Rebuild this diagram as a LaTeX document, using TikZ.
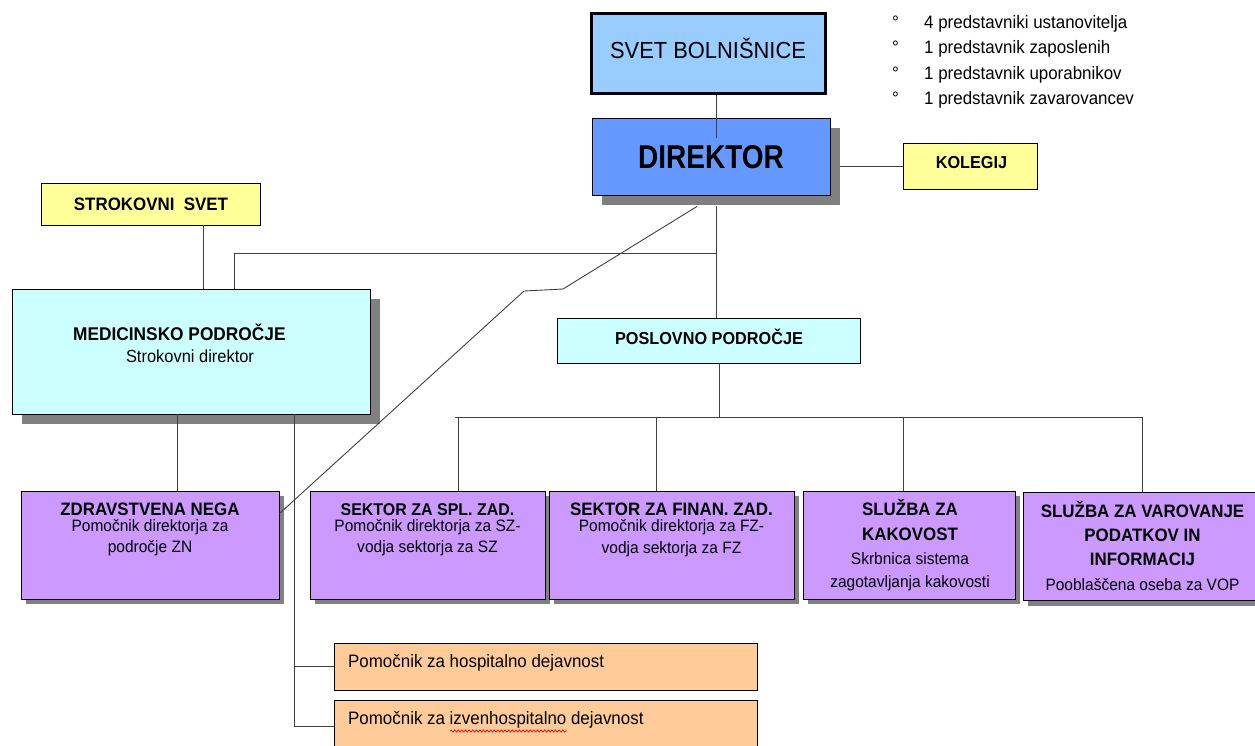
\documentclass[tikz,border=0pt]{standalone}
\usepackage{fontspec}
\setmainfont{Liberation Sans}[FakeStretch=0.94]
\newfontfamily\dirfont{Liberation Sans}[FakeStretch=0.85]
\usetikzlibrary{shadows,decorations.pathmorphing}
\definecolor{svetblue}{HTML}{99CCFF}
\definecolor{dirblue}{HTML}{6699FF}
\definecolor{yel}{HTML}{FFFF99}
\definecolor{cyanbox}{HTML}{CCFFFF}
\definecolor{purp}{HTML}{CC99FF}
\definecolor{orng}{HTML}{FFCC99}
\definecolor{shgray}{HTML}{808080}
\newcommand{\fsz}[1]{\fontsize{#1}{#1}\selectfont}
\begin{document}
\begin{tikzpicture}[x=1pt,y=-1pt,
  conn/.style={draw=black!75, line width=0.9pt},
  box/.style={draw=black, line width=0.9pt, inner sep=0pt},
  bigshadow/.style={drop shadow={shadow xshift=10pt,shadow yshift=-10pt,fill=shgray,opacity=1}},
  smallshadow/.style={drop shadow={shadow xshift=5pt,shadow yshift=-5pt,fill=shgray,opacity=1}},
  lbl/.style={inner sep=0pt, anchor=base},
  lbll/.style={inner sep=0pt, anchor=base west},
  ttl/.style={lbl, font=\bfseries\fsz{18}},
  sub/.style={lbl, font=\fsz{16.5}},
]
\useasboundingbox (0,0) rectangle (1255,745);

% ---------- boxes ----------
\node[box, fill=svetblue, line width=3pt, minimum width=234pt, minimum height=80pt] (svet) at (708,53) {};
\node[box, fill=dirblue, bigshadow, minimum width=238pt, minimum height=77pt] (dir) at (711,156.5) {};
\node[box, fill=yel, minimum width=134pt, minimum height=46pt] (kol) at (970,166) {};
\node[box, fill=yel, minimum width=219pt, minimum height=42pt] (strok) at (150.5,204) {};
\node[box, fill=cyanbox, bigshadow, minimum width=358pt, minimum height=125pt] (med) at (191,351.5) {};
\node[box, fill=cyanbox, minimum width=302.5pt, minimum height=45pt] (pos) at (708.75,340.5) {};
\node[box, fill=purp, smallshadow, minimum width=258pt, minimum height=108pt] (zdrav) at (150,545) {};
\node[box, fill=purp, smallshadow, minimum width=235pt, minimum height=108pt] (spl) at (427.5,545) {};
\node[box, fill=purp, smallshadow, minimum width=245pt, minimum height=108pt] (fin) at (671.5,545) {};
\node[box, fill=purp, smallshadow, minimum width=212pt, minimum height=108pt] (kak) at (909,545) {};
\node[box, fill=purp, smallshadow, minimum width=239pt, minimum height=108pt] (var) at (1142.5,546.7) {};
\node[box, fill=orng, minimum width=423pt, minimum height=46.7pt] (hosp) at (545.5,666.7) {};
\node[box, fill=orng, minimum width=423pt, minimum height=52pt] (izv) at (545.5,726) {};

% ---------- junction coordinates ----------
\coordinate (dtop) at (716,138);
\coordinate (j1) at (716,253);
\coordinate (j2) at (234,253);
\coordinate (s1) at (203,260);
\coordinate (d1) at (563,289);
\coordinate (d2) at (524,291);
\coordinate (m1) at (177.5,450);
\coordinate (m2) at (294,450);
\coordinate (p1) at (719,417);
\coordinate (h1) at (455,417);
\coordinate (h2) at (1142,417);
\coordinate (v1) at (458,417);
\coordinate (v2) at (656,417);
\coordinate (v3) at (903,417);
\coordinate (v4) at (1142,417);

% ---------- connectors ----------
\draw[conn] (svet.south -| dtop) -- (dtop);
\draw[conn] ([xshift=10pt]kol.west -| dir.east) -- (kol.west);
\draw[conn] ([yshift=-11pt]dir.south -| j1) -- (pos.north -| j1);
\draw[conn] (j1) -- (j2) -- (med.north -| j2);
\draw[conn] (strok.south -| s1) -- (med.north -| s1);
\draw[conn] ([xshift=-14pt,yshift=-11pt]dir.south) -- (d1) -- (d2) -- ([yshift=-23pt]zdrav.north east);
\draw[conn] (med.south -| m1) -- (zdrav.north -| m1);
\draw[conn] (med.south -| m2) -- (izv.west -| m2) -- (izv.west);
\draw[conn] (hosp.west -| m2) -- (hosp.west);
\draw[conn] (pos.south -| p1) -- (p1);
\draw[conn] (h1) -- (h2);
\draw[conn] (v1) -- (spl.north -| v1);
\draw[conn] (v2) -- (fin.north -| v2);
\draw[conn] (v3) -- (kak.north -| v3);
\draw[conn] (v4) -- (var.north -| v4);

% ---------- texts ----------
\node[lbl, font=\fsz{23.3}] (svett) at (708,58.3) {SVET BOLNIŠNICE};
\node[lbl, font=\dirfont\bfseries\fsz{33}] (dirt) at (711,168) {DIREKTOR};
\node[lbl, font=\bfseries\fsz{17.3}] (kolt) at (971.5,168.3) {KOLEGIJ};
\node[lbl, font=\bfseries\fsz{18}] (strokt) at (151,210) {STROKOVNI\ \ SVET};
\node[lbll, font=\bfseries\fsz{18.4}] (medt) at (73,340) {MEDICINSKO PODROČJE};
\node[lbl, font=\fsz{17.5}] (meds) at (190,362) {Strokovni direktor};
\node[lbl, font=\bfseries\fsz{17.3}] (post) at (709,344) {POSLOVNO PODROČJE};

\node[lbll, font=\fsz{18}] (b1) at (892,28) {\makebox[32pt][l]{°}4 predstavniki ustanovitelja};
\node[lbll, font=\fsz{18}] (b2) at (892,53.5) {\makebox[32pt][l]{°}1 predstavnik zaposlenih};
\node[lbll, font=\fsz{18}] (b3) at (892,79) {\makebox[32pt][l]{°}1 predstavnik uporabnikov};
\node[lbll, font=\fsz{18}] (b4) at (892,104.5) {\makebox[32pt][l]{°}1 predstavnik zavarovancev};

\node[ttl] (zt) at (150,515.7) {ZDRAVSTVENA NEGA};
\node[sub] (zs1) at (150,531) {Pomočnik direktorja za};
\node[sub] (zs2) at (150,552.7) {področje ZN};

\node[ttl, font=\bfseries\fsz{17}] (st) at (427.5,515.7) {SEKTOR ZA SPL. ZAD.};
\node[sub] (ss1) at (427.5,531) {Pomočnik direktorja za SZ-};
\node[sub] (ss2) at (427.5,552.7) {vodja sektorja za SZ};

\node[ttl] (ft) at (671.5,515.7) {SEKTOR ZA FINAN. ZAD.};
\node[sub] (fs1) at (671.5,531.5) {Pomočnik direktorja za FZ-};
\node[sub] (fs2) at (671.5,553) {vodja sektorja za FZ};

\node[ttl] (kt1) at (910,515.7) {SLUŽBA ZA};
\node[ttl] (kt2) at (910,540) {KAKOVOST};
\node[sub] (ks1) at (910,564.5) {Skrbnica sistema};
\node[sub] (ks2) at (910,587) {zagotavljanja kakovosti};

\node[ttl] (vt1) at (1142.5,517.3) {SLUŽBA ZA VAROVANJE};
\node[ttl] (vt2) at (1142.5,541.7) {PODATKOV IN};
\node[ttl] (vt3) at (1142.5,565) {INFORMACIJ};
\node[sub] (vs1) at (1142.5,590) {Pooblaščena oseba za VOP};

\node[lbll, font=\fsz{18}] (ht) at (348,667) {Pomočnik za hospitalno dejavnost};
\node[lbll, font=\fsz{18}] (it) at (348,724) {Pomočnik za izvenhospitalno dejavnost};
\draw[red, line width=0.7pt, decorate, decoration={snake, amplitude=1.1pt, segment length=3.6pt}]
  ([xshift=102pt,yshift=-7pt]it.base west) -- ([xshift=219pt,yshift=-7pt]it.base west);
\end{tikzpicture}
\end{document}
